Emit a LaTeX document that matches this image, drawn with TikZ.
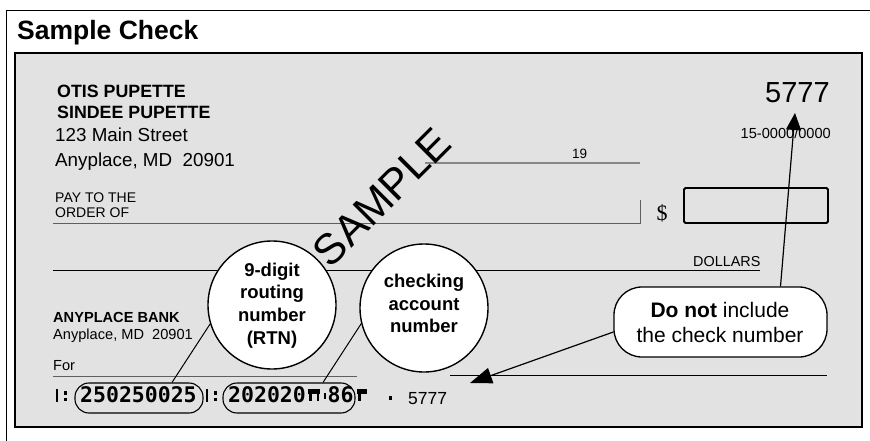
\documentclass[tikz,border=0pt]{standalone}
\usepackage{fontspec}
\setmainfont{Liberation Sans}
\newfontfamily\micrfont{DejaVu Sans Mono}
\newfontfamily\dollarfont{Liberation Serif}
\usetikzlibrary{arrows.meta,calc}
\newcommand\fsz[2]{\fontsize{#1}{#2}\selectfont}
\definecolor{checkbg}{RGB}{226,226,226}
\definecolor{lineg}{RGB}{95,95,95}
\definecolor{dateg}{RGB}{135,135,135}
\begin{document}
\begin{tikzpicture}[x=1pt,y=-1pt,
  txt/.style={inner sep=0pt, anchor=base west},
  bubble/.style={circle, draw=black, fill=white, line width=1.4pt, minimum size=128pt, inner sep=0pt},
  bubtext/.style={inner sep=0pt, align=center, font=\bfseries\fsz{18.5}{22.6}},
  oval/.style={draw=black, line width=1.1pt, rounded corners=14pt, inner sep=0pt, minimum height=30pt},
  micr/.style={inner sep=0pt, anchor=base west, font=\micrfont\bfseries\fsz{21.5}{22}},
  conn/.style={line width=1pt},
  arr/.style={line width=1.2pt},
  chkline/.style={line width=0.9pt}
]
\useasboundingbox (0,0) rectangle (870,441);
\fill[white] (0,0) rectangle (870,441);
% outer frame
\draw[line width=1pt] (6,441) -- (6,11) -- (870,11);
\node[txt, font=\bfseries\fsz{26.5}{30}] (title) at (17,40) {Sample Check};
% check body
\draw[fill=checkbg, line width=1.3pt] (15,53) rectangle (862,427);

% lines on the check
\draw[dateg, line width=1.8pt] (425,163) -- (640,163);
\draw[lineg, chkline] (53,223) -- (640,223) -- (640,200);
\draw[black, chkline] (53,270) -- (760,270);
\draw[lineg, chkline] (53,376) -- (357,376);
\draw[black, line width=0.8pt] (450,375) -- (827,375);

% texts
\node[txt, font=\bfseries\fsz{17.8}{20}] (n1) at (57,98) {OTIS PUPETTE};
\node[txt, font=\bfseries\fsz{17.8}{20}] (n2) at (57,119) {SINDEE PUPETTE};
\node[txt, font=\fsz{18.8}{22}] (a1) at (55,142) {123 Main Street};
\node[txt, font=\fsz{18.8}{22}] (a2) at (55,167) {Anyplace, MD\ \ 20901};
\node[txt, font=\fsz{14}{15}] (pay1) at (55,202) {PAY TO THE};
\node[txt, font=\fsz{14}{15}] (pay2) at (55,217) {ORDER OF};
\node[txt, font=\fsz{13.5}{15}] (yr) at (572,159) {19};
\node[txt, font=\fsz{29}{30}] (num) at (765,103) {5777};
\node[inner sep=0pt, anchor=base east, font=\fsz{14.6}{16}] (rt) at (831,139) {15-0000/0000};
\node[inner sep=0pt, font=\dollarfont\fsz{22}{24}] (dol) at (662,213) {\$};
\node[draw=black, line width=1.8pt, rounded corners=1.5pt, minimum width=144pt, minimum height=35pt, inner sep=0pt] (amt) at (756,205.5) {};
\node[txt, font=\fsz{14.4}{16}] (dl) at (693,266) {DOLLARS};
\node[txt, font=\bfseries\fsz{14.6}{16}] (bank) at (53,322) {ANYPLACE BANK};
\node[txt, font=\fsz{14.6}{16}] (bank2) at (53,339) {Anyplace, MD\ \ 20901};
\node[txt, font=\fsz{14.6}{16}] (for) at (53,370) {For};

% SAMPLE watermark
\node[inner sep=0pt, rotate=45, font=\fsz{43}{44}] (smp) at (382,197) {SAMPLE};

% MICR line
\fill (55.5,389) rectangle (57.5,402);
\fill (63.5,391) rectangle (67,394.5);
\fill (63.5,397.5) rectangle (67,401);
\node[oval, minimum width=128pt] (ov1) at (139,398) {};
\node[micr] (rtn) at (80,402.5) {250250025};
\fill (206,389) rectangle (208,402);
\fill (213.5,391) rectangle (217,394.5);
\fill (213.5,397.5) rectangle (217,401);
\node[oval, minimum width=132pt] (ov2) at (289,398) {};
\node[micr] (acct) at (228,402.5) {202020};
\fill (308,389) rectangle (320,393.5);
\fill (309,393.5) rectangle (311.5,401);
\fill (316.5,393.5) rectangle (319,401);
\fill (324,393) rectangle (326,398.5);
\node[micr] (acct2) at (327.5,402.5) {86};
\fill (357,389) rectangle (367,393.5);
\fill (358,393.5) rectangle (360.5,401);
\fill (388.5,396) rectangle (392,399.5);
\node[txt, font=\fsz{17.5}{18}] (mnum) at (408,404) {5777};

% callout circles
\node[bubble] (c1) at (272,305) {};
\node[bubtext] (c1t) at (272,305.5) {9-digit\\routing\\number\\(RTN)};
\node[bubble] (c2) at (424,308) {};
\node[bubtext] (c2t) at (424,303.5) {checking\\account\\number};
\draw[conn] (c1.197) -- ([xshift=33pt]ov1.north);
\draw[conn] (c2.194) -- ([xshift=34pt]ov2.north);

% "Do not" callout
\node[draw=black, fill=white, line width=1.3pt, rounded corners=28pt, minimum width=213pt, minimum height=70pt, inner sep=0pt] (bub) at (720.5,322) {};
\node[inner sep=0pt, align=center, font=\fsz{21}{25}] (bubt) at (720,322.5) {\textbf{Do not} include\\the check number};
\coordinate (tipA) at (795,113);
\coordinate (tipB) at (470,383);
\draw[arr, -{Triangle[length=17pt,width=15pt]}] ([xshift=60pt]bub.north) -- (tipA);
\draw[arr, -{Triangle[length=22pt,width=16pt]}] ([yshift=-10pt]bub.west) -- (tipB);
\end{tikzpicture}
\end{document}
